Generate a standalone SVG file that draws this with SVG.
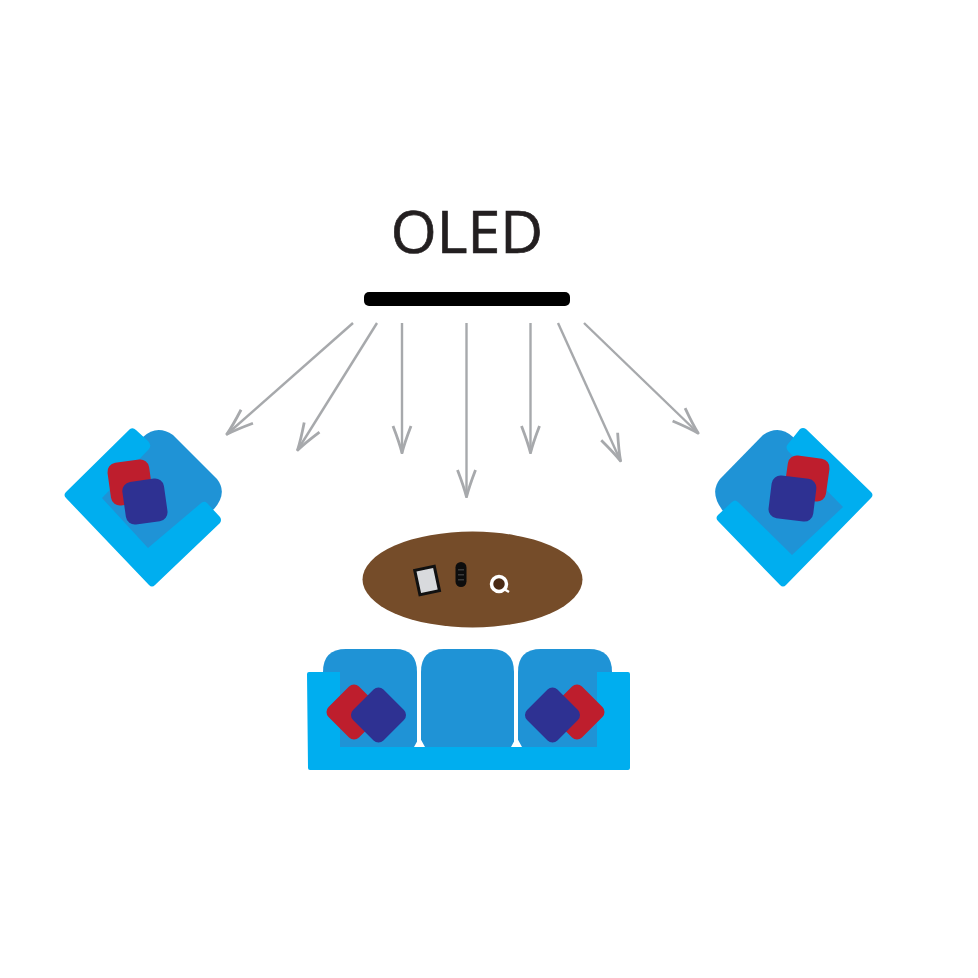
<svg xmlns="http://www.w3.org/2000/svg" width="978" height="978" viewBox="0 0 978 978">
<defs>
<marker id="arrow" markerUnits="userSpaceOnUse" markerWidth="40" markerHeight="30" refX="33" refY="15" orient="auto">
<path d="M5,6 Q22,12.500 32,15 Q22,17.500 5,24" fill="none" stroke="#a7a9ac" stroke-width="2.800"/>
</marker>
</defs>
<style>
.light{fill:#00aeef}
.dark{fill:#1f93d6}
.red{fill:#be1e2d}
.blue{fill:#2e3192}
.link{stroke:#a7a9ac;stroke-width:2.400;fill:none;marker-end:url(#arrow)}
</style>
<rect width="978" height="978" fill="#fff"/>
<g id="oled-label"><text x="467" y="252.500" text-anchor="middle" font-family="'Open Sans',sans-serif" font-size="59" fill="#231f20" stroke="#231f20" stroke-width="0.700">OLED</text></g>
<g id="oled-screen"><rect x="364" y="292" width="206" height="14" rx="5" fill="#000"/></g>
<g id="connectors">
<line class="link" x1="353" y1="323" x2="226" y2="435"/>
<line class="link" x1="377" y1="323" x2="297" y2="451"/>
<line class="link" x1="402" y1="323" x2="402" y2="454"/>
<line class="link" x1="466.500" y1="323" x2="466.500" y2="498"/>
<line class="link" x1="530.500" y1="323" x2="530.500" y2="454"/>
<line class="link" x1="558" y1="323" x2="621" y2="462"/>
<line class="link" x1="584" y1="323" x2="699" y2="434"/>
</g>
<g id="armchair-left">
<path class="dark" d="M143,437 Q157,424 173,435 L217,479 Q228,493 214,509 L150,560 L95,497 Z"/>
<path class="light" d="M130,429 Q133,427 136,430 L148,441 Q152,445 149,449 L102,498 L148,548 L200,504 Q204,500 207,503 L220,517 Q222,520 220,523 L155,585 Q152,588 149,585 L66,498 Q63,495 66,492 Z"/>
<rect class="red" x="109" y="461" width="42" height="43" rx="9" transform="rotate(-8 130 482)"/>
<rect class="blue" x="124" y="480" width="42" height="43" rx="9" transform="rotate(-8 145 502)"/>
</g>
<g id="armchair-right">
<path class="dark" d="M793,437 Q779,424 763,435 L720,479 Q709,493 723,511 L792,560 L848,507 Z"/>
<path class="light" d="M800,429 Q803,427 806,429 L871,492 Q874,495 871,498 L786,585 Q783,588 780,585 L718,521 Q715,518 718,515 L732,502 Q735,499 738,502 L792,555 L843,507 L788,451 Q785,447 788,444 Z"/>
<rect class="red" x="786" y="457" width="42" height="43" rx="9" transform="rotate(8 807 478)"/>
<rect class="blue" x="770" y="477" width="45" height="43" rx="9" transform="rotate(7 792 498)"/>
</g>
<g id="coffee-table">
<ellipse cx="472.500" cy="579.500" rx="110" ry="48" fill="#754c29"/>
<rect x="417" y="568" width="20" height="25" fill="#d8dadd" stroke="#111" stroke-width="3" transform="rotate(-12 427 580)"/>
<rect x="455.500" y="562" width="11" height="25" rx="5.500" fill="#0d0d0d"/>
<g fill="#3a3a3a"><rect x="458" y="569" width="6" height="1.500"/><rect x="458" y="574" width="6" height="1.500"/><rect x="458" y="579" width="6" height="1.500"/></g>
<circle cx="499" cy="584" r="7.500" fill="#4a2a14" stroke="#fff" stroke-width="3.500"/>
<path d="M504,589 L509,592" stroke="#fff" stroke-width="2.500" fill="none"/>
</g>
<g id="sofa">
<path class="dark" d="M323,748 V672 Q323,649 346,649 H395 Q417,649 417,672 V748 Z"/>
<path class="dark" d="M421,748 V672 Q421,649 444,649 H491 Q514,649 514,672 V748 Z"/>
<path class="dark" d="M518,748 V672 Q518,649 541,649 H589 Q612,649 612,672 V748 Z"/>
<path class="light" d="M307,674 Q307,672 309,672 H340 V747 H597 V672 H628 Q630,672 630,674 V768 Q630,770 628,770 H310 Q308,770 308,768 Z"/>
<path d="M414,747 L419.500,737 L425,747 Z M511,747 L516.500,737 L522,747 Z" fill="#fff"/>
<rect class="red" x="332.500" y="690.500" width="43" height="43" rx="7" transform="rotate(45 354 712)"/>
<rect class="blue" x="357" y="693.500" width="43" height="43" rx="7" transform="rotate(45 378.500 715)"/>
<rect class="red" x="555.500" y="690.500" width="43" height="43" rx="7" transform="rotate(-45 577 712)"/>
<rect class="blue" x="531" y="693.500" width="43" height="43" rx="7" transform="rotate(-45 552.500 715)"/>
</g>
</svg>
